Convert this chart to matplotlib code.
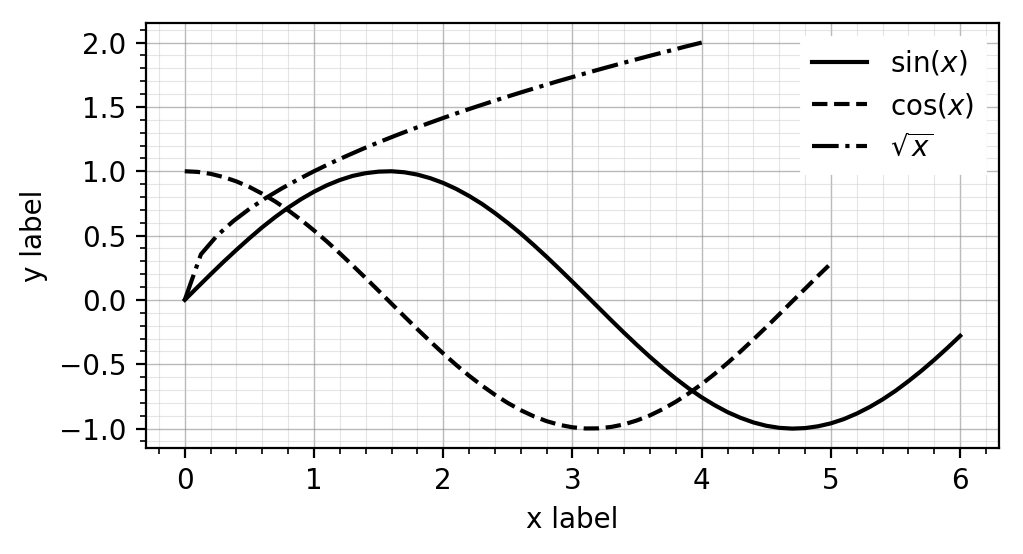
import numpy as np
import matplotlib
matplotlib.use("Agg")
import matplotlib.pyplot as plt
from matplotlib.ticker import AutoMinorLocator

sin_vals = [0.000, 0.100, 0.199, 0.296, 0.389, 0.479, 0.565, 0.644, 0.717, 0.783,
            0.841, 0.891, 0.932, 0.964, 0.985, 0.997, 1.000, 0.992, 0.974, 0.946,
            0.909, 0.863, 0.808, 0.746, 0.675, 0.598, 0.516, 0.427, 0.335, 0.239,
            0.141, 0.042, -0.058, -0.158, -0.256, -0.351, -0.443, -0.530, -0.612, -0.688,
            -0.757, -0.818, -0.872, -0.916, -0.952, -0.978, -0.994, -1.000, -0.996, -0.982,
            -0.959, -0.926, -0.883, -0.832, -0.773, -0.706, -0.631, -0.551, -0.465, -0.374,
            -0.279]
cos_vals = [1.000, 0.995, 0.980, 0.955, 0.921, 0.878, 0.825, 0.765, 0.697, 0.622,
            0.540, 0.454, 0.362, 0.267, 0.170, 0.071, -0.029, -0.129, -0.227, -0.323,
            -0.416, -0.505, -0.589, -0.666, -0.737, -0.801, -0.857, -0.904, -0.942, -0.971,
            -0.990, -0.999, -0.998, -0.987, -0.967, -0.936, -0.897, -0.848, -0.791, -0.726,
            -0.654, -0.575, -0.490, -0.401, -0.307, -0.211, -0.112, -0.012, 0.087, 0.187,
            0.284]
sqrt_vals = [0.000, 0.354, 0.500, 0.612, 0.707, 0.791, 0.866, 0.935, 1.000, 1.061,
             1.118, 1.173, 1.225, 1.275, 1.323, 1.369, 1.414, 1.458, 1.500, 1.541,
             1.581, 1.620, 1.658, 1.696, 1.732, 1.768, 1.803, 1.837, 1.871, 1.904,
             1.936, 1.969, 2.000]

x_sin = np.linspace(0, 6, len(sin_vals))
x_cos = np.linspace(0, 5, len(cos_vals))
x_sqrt = np.linspace(0, 4, len(sqrt_vals))

labels = [r"$\sin(x)$", r"$\cos(x)$", r"$\sqrt{x}$"]

fig = plt.figure(figsize=(1023/200, 554/200), dpi=200)
ax = fig.add_axes([0.1427, 0.1915, 0.9765 - 0.1427, 0.958 - 0.1915])

ax.plot(x_sin, sin_vals, 'k-', lw=1.5, label=labels[0])
ax.plot(x_cos, cos_vals, 'k--', lw=1.5, label=labels[1])
ax.plot(x_sqrt, sqrt_vals, 'k-.', lw=1.5, label=labels[2])

ax.xaxis.set_minor_locator(AutoMinorLocator(5))
ax.yaxis.set_minor_locator(AutoMinorLocator(5))
ax.grid(which='major', color='0.55', lw=0.5, alpha=0.6)
ax.grid(which='minor', color='0.8', lw=0.4, alpha=0.5)
ax.set_axisbelow(True)

ax.set_xlabel("x label")
ax.set_ylabel("y label")
leg = ax.legend(loc='upper right', fancybox=False, edgecolor='white', framealpha=1)

fig.savefig("out.png", dpi=200)
